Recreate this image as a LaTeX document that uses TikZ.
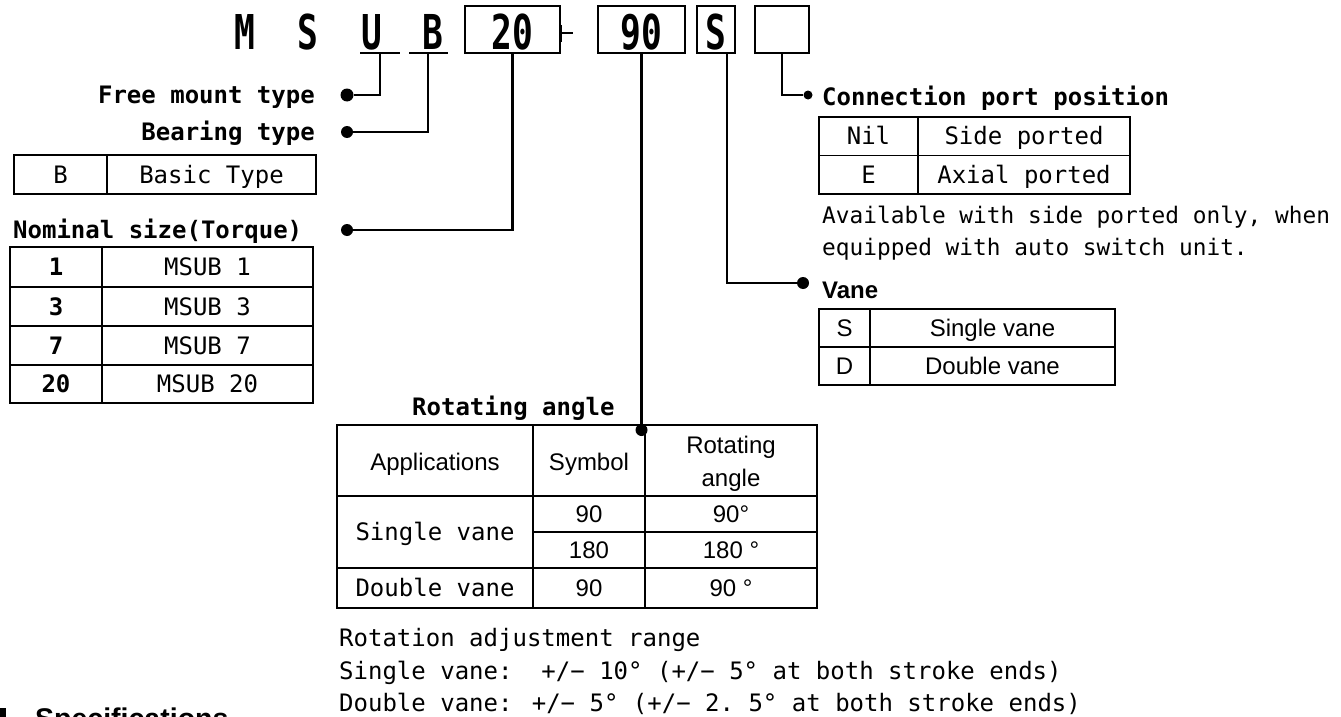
\documentclass[tikz,border=0pt]{standalone}
\usepackage{fontspec}
\usepackage{graphicx}
\newfontfamily\jm{DejaVu Sans Mono}
\newfontfamily\ar{Liberation Sans}
\begin{document}
\begin{tikzpicture}[x=1pt,y=-1pt,
  tx/.style={inner sep=0pt, font=\jm\fontsize{24}{28}\selectfont},
  txh/.style={inner sep=0pt, font=\jm\bfseries\fontsize{24}{28}\selectfont},
  txn/.style={inner sep=0pt, font=\jm\fontsize{22.8}{27}\selectfont},
  txb/.style={inner sep=0pt, font=\jm\bfseries\fontsize{24}{28}\selectfont},
  ta/.style={inner sep=0pt, font=\ar\fontsize{24}{28}\selectfont},
  tab/.style={inner sep=0pt, font=\ar\bfseries\fontsize{24}{28}\selectfont},
  big/.style={inner sep=0pt, font=\jm\bfseries\fontsize{48}{56}\selectfont},
  dot/.style={circle, fill=black, inner sep=0pt, minimum size=12pt},
  conn/.style={line width=2.4pt},
  uline/.style={line width=2pt},
  grid/.style={line width=1.6pt},
  cbox/.style={draw, line width=1.4pt, minimum height=47pt, inner sep=0pt}]
\fill[white] (0,0) rectangle (1341,717);
\useasboundingbox (0,0) rectangle (1341,717);

% ---- model code row ----
\node[big, anchor=base] (cM) at (245,50) {\scalebox{0.72}[1]{M}};
\node[big, anchor=base] (cS) at (308,50) {\scalebox{0.72}[1]{S}};
\node[big, anchor=base] (cU) at (372,50) {\scalebox{0.72}[1]{U}};
\node[big, anchor=base] (cB) at (433,50) {\scalebox{0.72}[1]{B}};
\coordinate (uL) at (360,53); \coordinate (uR) at (400,53);
\coordinate (bL) at (409,53); \coordinate (bR) at (448,53);
\draw[uline] (uL) -- (uR);
\draw[uline] (bL) -- (bR);
\node[cbox, minimum width=95pt] (b20) at (512.5,29.5) {};
\node[big, anchor=base] (t20) at (512.5,50) {\scalebox{0.72}[1]{20}};
\coordinate (dA) at (561,25); \coordinate (dB) at (561,42);
\coordinate (dC) at (561,33); \coordinate (dD) at (573,33);
\draw[line width=1.4pt] (dA) -- (dB);
\draw[line width=1.6pt] (dC) -- (dD);
\node[cbox, minimum width=87pt] (b90) at (641.5,29.5) {};
\node[big, anchor=base] (t90) at (641.5,50) {\scalebox{0.72}[1]{90}};
\node[cbox, minimum width=38pt] (bS) at (716,29.5) {};
\node[big, anchor=base] (tS) at (716,50) {\scalebox{0.72}[1]{S}};
\node[cbox, minimum width=54pt] (bE) at (782,29.5) {};

% ---- dots ----
\node[dot, minimum size=13pt] (dFM) at (347,95) {};
\node[dot] (dBT) at (347,132) {};
\node[dot] (dNS) at (347,230) {};
\node[dot] (dRA) at (641.5,430) {};
\node[dot, minimum size=9pt] (dCP) at (808,95) {};
\node[dot] (dV) at (803,283) {};

% ---- connectors ----
\coordinate (uM) at (380,53);
\coordinate (bM) at (428,53);
\coordinate (sM) at (727,53);
\draw[conn] (uM) |- (dFM);
\draw[conn] (bM) |- (dBT);
\draw[conn] (b20.south) |- (dNS);
\draw[conn] (b90.south) -- (dRA);
\draw[conn] (sM) |- (dV);
\draw[conn] (bE.south) |- (dCP);

% ---- left labels ----
\node[txh, anchor=base east] (lFM) at (315,103.5) {Free mount type};
\node[txh, anchor=base east] (lBT) at (315,140.5) {Bearing type};
\draw[grid] (14,155) rectangle (316,194);
\draw[grid] (107,155) -- (107,194);
\node[tx, anchor=base] (bB) at (60.5,183) {B};
\node[tx, anchor=base] (bBT) at (211.5,183) {Basic Type};

\node[txh, anchor=base west] (lNS) at (13,238.5) {Nominal size(Torque)};
\draw[grid] (10,247) rectangle (313,403);
\draw[grid] (10,287) -- (313,287);
\draw[grid] (10,326) -- (313,326);
\draw[grid] (10,365) -- (313,365);
\draw[grid] (102,247) -- (102,403);
\node[txb, anchor=base] (n1) at (56,275.5) {1};
\node[tx, anchor=base] (m1) at (207.5,275.5) {MSUB 1};
\node[txb, anchor=base] (n3) at (56,315) {3};
\node[tx, anchor=base] (m3) at (207.5,315) {MSUB 3};
\node[txb, anchor=base] (n7) at (56,354) {7};
\node[tx, anchor=base] (m7) at (207.5,354) {MSUB 7};
\node[txb, anchor=base] (n20) at (56,392.5) {20};
\node[tx, anchor=base] (m20) at (207.5,392.5) {MSUB 20};

% ---- connection port ----
\node[txh, anchor=base west] (lCP) at (822,105.5) {Connection port position};
\draw[grid] (819,117) rectangle (1130,194);
\draw[grid] (819,155.5) -- (1130,155.5);
\draw[grid] (918,117) -- (918,194);
\node[tx, anchor=base] (cNil) at (868.5,144.5) {Nil};
\node[tx, anchor=base] (cSide) at (1024,144.5) {Side ported};
\node[tx, anchor=base] (cE) at (868.5,183) {E};
\node[tx, anchor=base] (cAx) at (1024,183) {Axial ported};
\node[txn, anchor=base west] (note1) at (822,223) {Available with side ported only, when};
\node[txn, anchor=base west] (note2) at (822,255) {equipped with auto switch unit.};

% ---- vane ----
\node[tab, anchor=base west] (lV) at (822,298.5) {Vane};
\draw[grid] (819,309) rectangle (1115,385);
\draw[grid] (819,347) -- (1115,347);
\draw[grid] (870,309) -- (870,385);
\node[ta, anchor=base] (vS) at (844.5,336.5) {S};
\node[ta, anchor=base] (vSv) at (992.5,336.5) {Single vane};
\node[ta, anchor=base] (vD) at (844.5,374.5) {D};
\node[ta, anchor=base] (vDv) at (992.5,374.5) {Double vane};

% ---- rotating angle ----
\node[txh, anchor=base west] (lRA) at (412,415.5) {Rotating angle};
\draw[grid] (337,425) rectangle (817,608);
\draw[grid] (533,425) -- (533,608);
\draw[grid] (645,425) -- (645,608);
\draw[grid] (337,496) -- (817,496);
\draw[grid] (533,532) -- (817,532);
\draw[grid] (337,568) -- (817,568);
\node[ta, anchor=base] (hA) at (435,470.5) {Applications};
\node[ta, anchor=base] (hS) at (589,470.5) {Symbol};
\node[ta, anchor=base] (hR1) at (731,453.5) {Rotating};
\node[ta, anchor=base] (hR2) at (731,486.5) {angle};
\node[tx, anchor=base] (rSv) at (435,540.5) {Single vane};
\node[ta, anchor=base] (r1s) at (589,522.5) {90};
\node[ta, anchor=base] (r1a) at (731,522.5) {90°};
\node[ta, anchor=base] (r2s) at (589,558.5) {180};
\node[ta, anchor=base] (r2a) at (731,558.5) {180 °};
\node[tx, anchor=base] (rDv) at (435,596.5) {Double vane};
\node[ta, anchor=base] (r3s) at (589,596.5) {90};
\node[ta, anchor=base] (r3a) at (731,596.5) {90 °};

\node[tx, anchor=base west] (adj1) at (339,646.5) {Rotation adjustment range};
\node[tx, anchor=base west] (adj2) at (339,679.5) {Single vane:~~+/− 10° (+/− 5° at both stroke ends)};
\node[tx, anchor=base west] (adj3) at (339,711.5) {Double vane: +/− 5° (+/− 2.~5° at both stroke ends)};

% ---- cut-off heading ----
\fill (0,708) rectangle (6,727);
\node[tab, font=\ar\bfseries\fontsize{28.5}{32}\selectfont, anchor=base west] (spec) at (35,728) {Specifications};
\end{tikzpicture}
\end{document}
